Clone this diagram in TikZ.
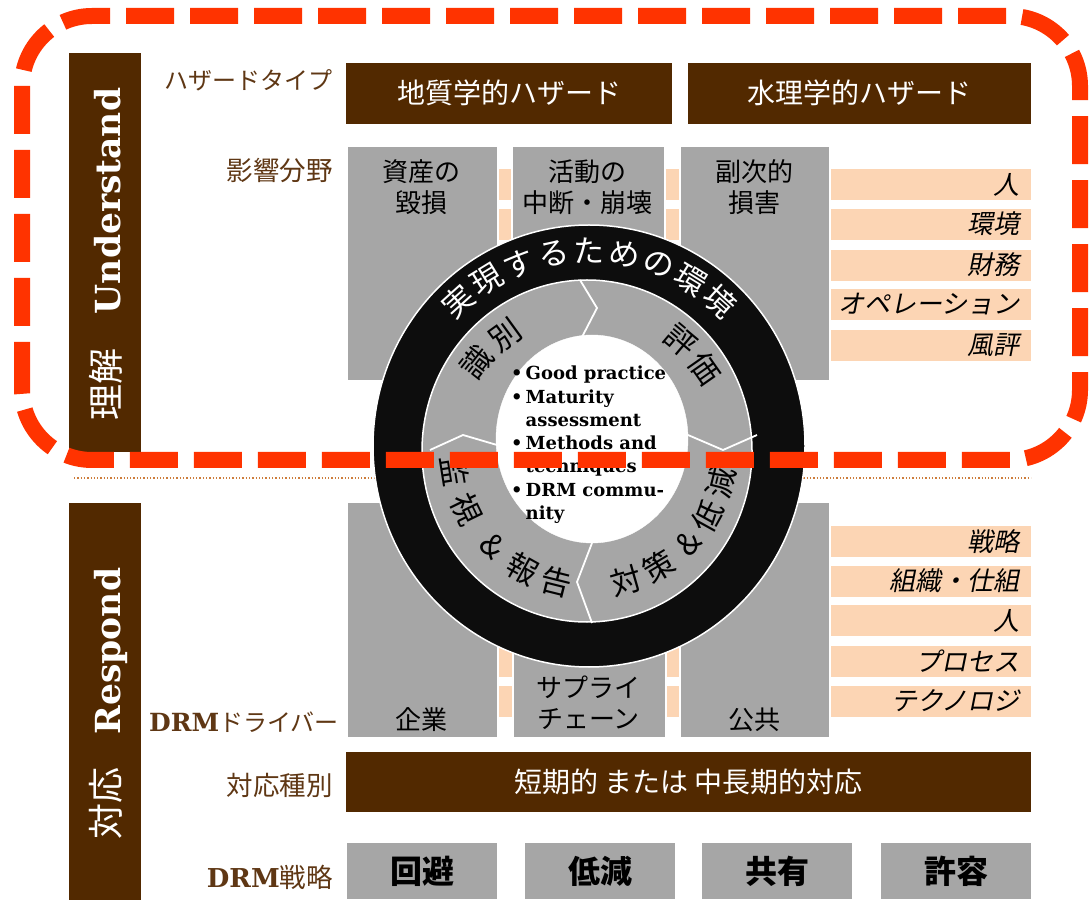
\documentclass[tikz,border=0pt]{standalone}
\usepackage{fontspec}
\setmainfont{DejaVu Serif}
\newfontfamily\jp{Noto Sans CJK JP}
\newfontfamily\jpi[FakeSlant=0.2]{Noto Sans CJK JP}
\definecolor{brn}{RGB}{82,41,0}
\definecolor{lbl}{RGB}{95,55,20}
\definecolor{gry}{RGB}{166,166,166}
\definecolor{pch}{RGB}{252,213,180}
\definecolor{ora}{RGB}{255,51,0}
\definecolor{blk}{RGB}{13,13,13}
\definecolor{dotc}{RGB}{205,125,60}
\begin{document}
\begin{tikzpicture}[x=1pt,y=1pt,
  brownbox/.style={fill=brn, draw=none, inner sep=0pt, anchor=south west, text=white, font=\jp\fontsize{28}{31}\selectfont},
  graycol/.style={fill=gry, draw=white, line width=1.5pt, inner sep=0pt, anchor=south west, minimum width=#1, minimum height=235pt},
  peachbar/.style={fill=pch, draw=none, inner sep=0pt, anchor=south west, minimum width=685pt, minimum height=31pt},
  stratbox/.style={fill=gry, draw=white, line width=1pt, inner sep=0pt, anchor=south west, minimum width=151pt, minimum height=57pt, font=\jp\bfseries\fontsize{32}{34}\selectfont},
  sidebar/.style={fill=brn, draw=none, inner sep=0pt, anchor=south west, minimum width=72pt},
  lab/.style={anchor=east, inner sep=0pt, text=lbl, font=\jp\fontsize{24}{28}\selectfont},
  labk/.style={lab, font=\jp\fontsize{26.5}{30}\selectfont},
  peachtxt/.style={anchor=east, inner sep=0pt, font=\jpi\fontsize{26}{30}\selectfont},
  coltxt/.style={inner sep=0pt, align=center, font=\jp\fontsize{26}{31}\selectfont},
  vlat/.style={rotate=90, anchor=base, inner sep=0pt, text=white, font=\bfseries\fontsize{34.5}{38}\selectfont},
  vjp/.style={rotate=90, inner sep=0pt, text=white, font=\jp\fontsize{36}{38}\selectfont},
  ringch/.style={inner sep=0pt, text=white, font=\jp\fontsize{31}{32}\selectfont},
  gch/.style={inner sep=0pt, text=black, font=\jp\fontsize{31}{32}\selectfont},
  divider/.style={draw=white, line width=1.8pt}
]
\useasboundingbox (0,0) rectangle (1091,900);
\fill[white] (0,0) rectangle (1091,900);

% side bars
\node[sidebar, minimum height=399pt] (ubar) at (69,448) {};
\node[sidebar, minimum height=397pt] (rbar) at (69,0) {};
\node[vlat] (und) at (120,699) {Understand};
\node[vjp] (rikai) at (106,515) {理解};
\node[vlat] (resp) at (120,249) {Respond};
\node[vjp] (taiou) at (106,97) {対応};

% left labels
\node[lab] (l1) at (333,820) {ハザードタイプ};
\node[labk] (l2) at (333,730) {影響分野};
\node[lab] (l3) at (339,178) {{\rmfamily\bfseries\fontsize{25}{28}\selectfont DRM}ドライバー};
\node[labk] (l4) at (333,115) {対応種別};
\node[labk] (l5) at (333,23) {{\rmfamily\bfseries\fontsize{26}{28}\selectfont DRM}戦略};

% hazard boxes
\node[brownbox, minimum width=326pt, minimum height=61pt] (geo) at (346,776) {地質学的ハザード};
\node[brownbox, minimum width=343pt, minimum height=61pt] (hyd) at (688,776) {水理学的ハザード};

% dotted separator
\coordinate (dl) at (74,422);
\coordinate (dr) at (1031,422);
\draw[dotc, line width=1.3pt, dotted] (dl) -- (dr);

% top peach stripes
\node[peachbar] (p1) at (346,700) {};
\node[peachbar] (p2) at (346,660) {};
\node[peachbar] (p3) at (346,619) {};
\node[peachbar] (p4) at (346,580) {};
\node[peachbar] (p5) at (346,539) {};
\node[peachtxt] (t1) at (1020,715.5) {人};
\node[peachtxt] (t2) at (1020,676) {環境};
\node[peachtxt] (t3) at (1020,635) {財務};
\node[peachtxt] (t4) at (1020,595.5) {オペレーション};
\node[peachtxt] (t5) at (1020,554.5) {風評};

% top gray columns
\node[graycol=151pt] (c1) at (346,518) {};
\node[graycol=153pt] (c2) at (511,518) {};
\node[graycol=150pt] (c3) at (679,518) {};
\node[coltxt] (ct1) at (421.5,712.5) {資産の\\毀損};
\node[coltxt] (ct2) at (587.5,712.5) {活動の\\中断・崩壊};
\node[coltxt] (ct3) at (754,712.5) {副次的\\損害};

% bottom peach stripes
\node[peachbar] (q1) at (346,343) {};
\node[peachbar] (q2) at (346,303) {};
\node[peachbar] (q3) at (346,264) {};
\node[peachbar] (q4) at (346,223) {};
\node[peachbar] (q5) at (346,183) {};
\node[peachtxt] (s1) at (1020,358.5) {戦略};
\node[peachtxt] (s2) at (1020,319) {組織・仕組};
\node[peachtxt] (s3) at (1020,279.5) {人};
\node[peachtxt] (s4) at (1020,239) {プロセス};
\node[peachtxt] (s5) at (1020,199) {テクノロジ};

% bottom gray columns
\node[graycol=151pt] (d1) at (346,162) {};
\node[graycol=153pt] (d2) at (512,162) {};
\node[graycol=150pt] (d3) at (679,162) {};
\node[coltxt] (dt1) at (421.5,180) {企業};
\node[coltxt] (dt2) at (588.5,197) {サプライ\\チェーン};
\node[coltxt] (dt3) at (754,180) {公共};

% response type bar
\node[brownbox, minimum width=685pt, minimum height=60pt] (resbar) at (346,88) {短期的\hspace{6pt}または\hspace{6pt}中長期的対応};

% strategy boxes
\node[stratbox] (st1) at (346,0) {回避};
\node[stratbox] (st2) at (524,0) {低減};
\node[stratbox] (st3) at (701,0) {共有};
\node[stratbox] (st4) at (880,0) {許容};

% circle
\filldraw[fill=blk, draw=white, line width=1.5pt] (589,454) ellipse [x radius=216, y radius=221];
\filldraw[fill=gry, draw=white, line width=1.5pt] (587,449) ellipse [x radius=165, y radius=171];
\filldraw[fill=white, draw=white] (592,461) ellipse [x radius=96, y radius=104];
\draw[divider] (580,620) -- (597,592) -- (582,563);
\draw[divider] (688,465) -- (723,450) -- (757,465);
\draw[divider] (592,357) -- (577,318) -- (592,277);
\draw[divider] (430,450) -- (463,465) -- (497,455);

\foreach \c [count=\i from 0] in {実,現,す,る,た,め,の,環,境} {
  \pgfmathsetmacro\a{132-10.5*\i}
  \node[ringch, rotate=\a-90] (rg\i) at ([shift={(\a:195)}]589,454) {\c};
}
\foreach \c/\a [count=\i] in {識/142,別/126,評/50,価/35} {
  \node[gch, rotate=\a-90] (gt\i) at ([shift={(\a:142)}]589,450) {\c};
}
\foreach \c/\a [count=\i] in {監/189,視/206,\&/225,報/241,告/256,対/-74,策/-59,\&/-43,低/-29,減/-14} {
  \node[gch, rotate=\a+90] (gb\i) at ([shift={(\a:136)}]589,450) {\c};
}

\node[anchor=west, inner sep=0pt, font=\bfseries\fontsize{18}{23.3}\selectfont] (bul) at (511,455) {%
\begin{tabular}{@{}l@{\hspace{3pt}}l@{}}
\textbullet & Good practice\\
\textbullet & Maturity\\
 & assessment\\
\textbullet & Methods and\\
 & techniques\\
\textbullet & DRM commu-\\
 & nity
\end{tabular}};

% dashed frame
\draw[ora, line width=16pt, dash pattern=on 48pt off 16pt, rounded corners=70pt] (22,440) rectangle (1080,884);
\end{tikzpicture}
\end{document}
